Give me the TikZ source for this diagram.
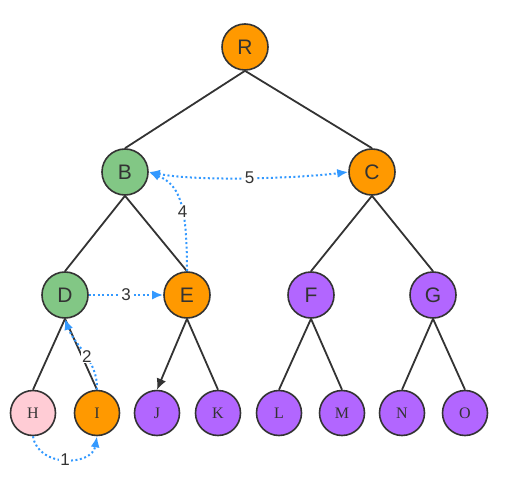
\documentclass[tikz,border=0pt]{standalone}
\usepackage{fontspec}
\setmainfont{Liberation Serif}
\newfontfamily\hsans{Liberation Sans}
\usetikzlibrary{arrows.meta}
\definecolor{orng}{HTML}{FF9900}
\definecolor{grn}{HTML}{82C785}
\definecolor{purp}{HTML}{B266FF}
\definecolor{pnk}{HTML}{FFCCD5}
\definecolor{blu}{HTML}{3399FF}
\definecolor{ink}{HTML}{333333}
\tikzset{
  inner/.style={circle,draw=ink,line width=1.6pt,minimum size=46pt,inner sep=0pt,font=\hsans\fontsize{21}{21}\selectfont,text=ink},
  leaf/.style={circle,draw=ink,line width=1.6pt,minimum size=45pt,inner sep=0pt,font=\fontsize{16}{16}\selectfont,text=ink},
  edge/.style={draw=ink,line width=1.8pt},
  trav/.style={draw=blu,line width=2pt,dash pattern=on 2pt off 2.5pt,-{Latex[length=11pt,width=9pt]}},
  lab/.style={fill=white,inner sep=1pt,font=\hsans\fontsize{17}{17}\selectfont,text=ink}
}
\begin{document}
\begin{tikzpicture}[x=1pt,y=-1pt]
\useasboundingbox (0,0) rectangle (505,478);
\node[inner,fill=orng] (R) at (245,47) {R};
\node[inner,fill=grn] (B) at (125,172) {B};
\node[inner,fill=orng] (C) at (372,172) {C};
\node[inner,fill=grn] (D) at (65,295) {D};
\node[inner,fill=orng] (E) at (187,295) {E};
\node[inner,fill=purp] (F) at (311,295) {F};
\node[inner,fill=purp] (G) at (433,295) {G};
\node[leaf,fill=pnk] (H) at (33,413) {H};
\node[leaf,fill=orng] (I) at (97,413) {I};
\node[leaf,fill=purp] (J) at (157,413) {J};
\node[leaf,fill=purp] (K) at (218,413) {K};
\node[leaf,fill=purp] (L) at (279,413) {L};
\node[leaf,fill=purp] (M) at (342,413) {M};
\node[leaf,fill=purp] (N) at (402,413) {N};
\node[leaf,fill=purp] (O) at (465,413) {O};
\draw[edge] (R.south) -- (B.north);
\draw[edge] (R.south) -- (C.north);
\draw[edge] (B.south) -- (D.north);
\draw[edge] (B.south) -- (E.north);
\draw[edge] (C.south) -- (F.north);
\draw[edge] (C.south) -- (G.north);
\draw[edge] (D.south) -- (H.north);
\draw[edge] (D.south) -- (I.north);
\draw[edge,-{Latex[length=11pt,width=10pt]}] (E.south) -- (J.north);
\draw[edge] (E.south) -- (K.north);
\draw[edge] (F.south) -- (L.north);
\draw[edge] (F.south) -- (M.north);
\draw[edge] (G.south) -- (N.north);
\draw[edge] (G.south) -- (O.north);
% traversal arrows
\draw[trav] (H.south) .. controls (38,468) and (92,466) .. node[lab,pos=0.5] {1} (I.south);
\draw[trav] (I.north) .. controls (98,360) and (74,345) .. node[lab,pos=0.45] {2} (D.south);
\draw[trav] (D.east) -- node[lab] {3} (E.west);
\draw[trav] (E.north) .. controls (187,205) and (180,185) .. node[lab,pos=0.4] {4} (B.east);
\draw[trav,{Latex[length=11pt,width=9pt]}-{Latex[length=11pt,width=9pt]}] (B.east) .. controls (200,182) and (300,178) .. node[lab,pos=0.5] {5} (C.west);
\end{tikzpicture}
\end{document}
